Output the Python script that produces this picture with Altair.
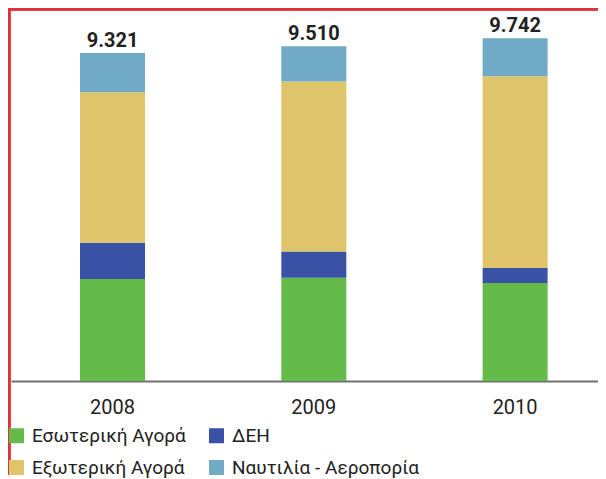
import altair as alt
import pandas as pd

years = ["2008", "2009", "2010"]
series = ["Εσωτερική Αγορά", "ΔΕΗ", "Εξωτερική Αγορά", "Ναυτιλία - Αεροπορία"]
colors = ["#65BB4A", "#3952A5", "#DFC46A", "#71AAC6"]
domestic = [2896, 2935, 2785]
dei = [1030, 748, 426]
foreign = [4279, 4830, 5452]
shipping = [1116, 997, 1079]
totals = [9321, 9510, 9742]
total_labels = ["9.321", "9.510", "9.742"]

rows = []
for i, y in enumerate(years):
    for k, (name, vals) in enumerate(zip(series, [domestic, dei, foreign, shipping])):
        rows.append({"year": y, "series": name, "value": vals[i], "order": k})
df = pd.DataFrame(rows)
tot = pd.DataFrame({"year": years, "total": totals, "label": total_labels})

FONT = "Roboto"

xscale = alt.Scale(domain=years, paddingInner=0.677, paddingOuter=0.2965, align=0.578)
yscale = alt.Scale(domain=[0, 10400], nice=False)

bars = alt.Chart(df).mark_bar().encode(
    x=alt.X("year:N", scale=xscale, title=None,
            axis=alt.Axis(labelAngle=0, ticks=False, domainColor="#707070", domainWidth=2,
                          labelFont=FONT, labelFontSize=20, labelColor="#222222",
                          labelPadding=16, grid=False)),
    y=alt.Y("value:Q", stack="zero", scale=yscale, axis=None),
    color=alt.Color("series:N", scale=alt.Scale(domain=series, range=colors), title=None,
                    legend=alt.Legend(orient="none", legendX=-4, legendY=411, columns=2,
                                      direction="horizontal",
                                      symbolType="square", symbolSize=225, symbolStrokeWidth=0,
                                      labelFont=FONT, labelFontSize=19, labelColor="#222222",
                                      rowPadding=12, columnPadding=21, labelOffset=6,
                                      labelLimit=400)),
    order=alt.Order("order:Q", sort="ascending"),
)

labels = alt.Chart(tot).mark_text(font=FONT, fontSize=20, fontWeight="bold", color="#222222",
                                  baseline="alphabetic", dy=-6).encode(
    x=alt.X("year:N", scale=xscale),
    y=alt.Y("total:Q", scale=yscale),
    text="label:N",
)

frame_top = alt.Chart(tot).mark_rule(color="#E0303A", strokeWidth=3).encode(
    x=alt.value(-3), x2=alt.value(587), y=alt.value(-6)
)
frame_left = alt.Chart(tot).mark_rule(color="#E0303A", strokeWidth=3).encode(
    x=alt.value(-2), y=alt.value(-7), y2=alt.value(460)
)

chart = alt.layer(frame_top, frame_left, bars, labels).properties(
    width=587, height=366,
    autosize=alt.AutoSizeParams(type="none"),
    padding={"left": 3, "top": 7, "right": 0, "bottom": 97},
).configure_view(stroke=None)

chart.save("out.html", embed_options={"renderer": "svg", "actions": False})
